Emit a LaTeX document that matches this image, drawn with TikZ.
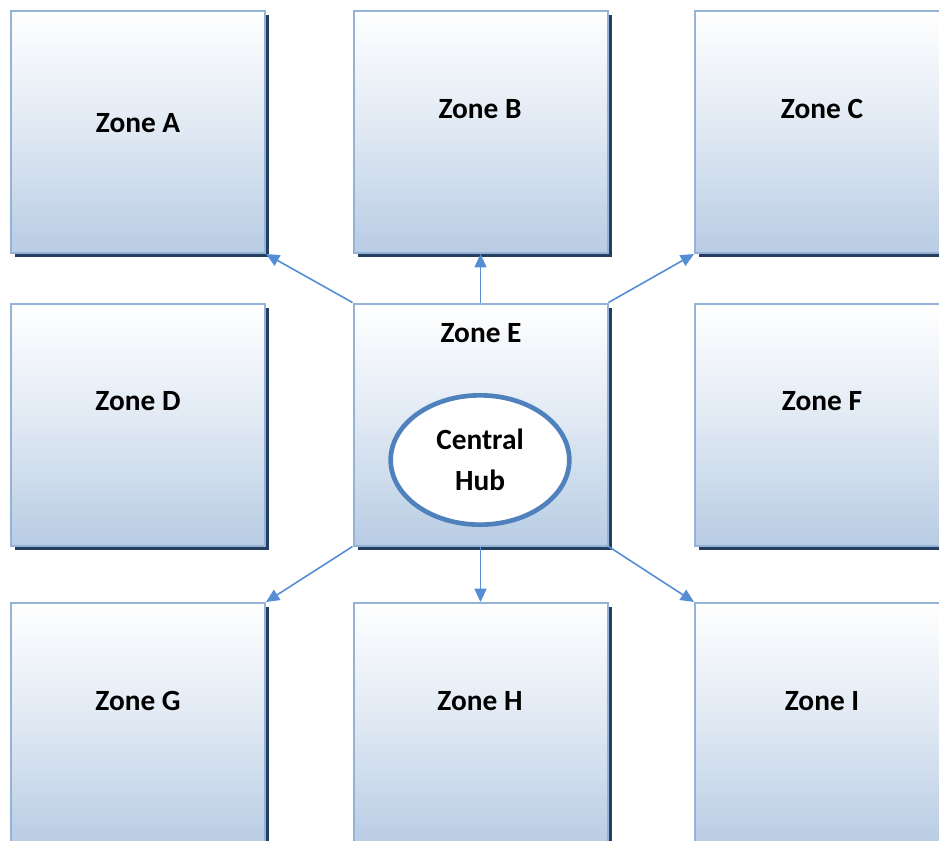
\documentclass[tikz,border=0pt]{standalone}
\usepackage{fontspec}
\setmainfont{Carlito}
\usetikzlibrary{arrows.meta,shadows,shapes.geometric}
\definecolor{zoneedge}{HTML}{95B3D7}
\definecolor{zonebot}{HTML}{B8CCE4}
\definecolor{zoneshade}{HTML}{243F60}
\definecolor{linkblue}{HTML}{558ED5}
\definecolor{hubblue}{HTML}{4F81BD}
\begin{document}
\begin{tikzpicture}[x=0.75pt,y=-0.75pt,
  zone/.style={draw=zoneedge,line width=1.5pt,shading=axis,top color=white,bottom color=zonebot,
    middle color=zonebot!45!white,
    minimum width=190.5pt,minimum height=181.5pt,inner sep=0pt,
    drop shadow={shadow xshift=3pt,shadow yshift=-3pt,fill=zoneshade,opacity=1}},
  zonetext/.style={font=\fontsize{22}{30.75}\selectfont\bfseries,align=center},
  link/.style={draw=linkblue,line width=1.2pt,-{Triangle[length=10pt,width=9pt]}}]
\useasboundingbox (0,0) rectangle (939,840);
\clip (0,0) rectangle (939,840);
\node[zone] (zA) at (138,132) {};
\node[zone] (zB) at (480.5,132) {};
\node[zone] (zC) at (822,132) {};
\node[zone] (zD) at (138,424.5) {};
\node[zone] (zE) at (480.5,424.5) {};
\node[zone] (zF) at (822,424.5) {};
\node[zone] (zG) at (138,724) {};
\node[zone] (zH) at (480.5,724) {};
\node[zone] (zI) at (822,724) {};

\node[zonetext] (tA) at (138,123) {Zone A};
\node[zonetext] (tB) at (480,109) {Zone B};
\node[zonetext] (tC) at (822,109) {Zone C};
\node[zonetext] (tD) at (138,401) {Zone D};
\node[zonetext] (tE) at (481,333) {Zone E};
\node[zonetext] (tF) at (822,401) {Zone F};
\node[zonetext] (tG) at (138,701) {Zone G};
\node[zonetext] (tH) at (480,701) {Zone H};
\node[zonetext] (tI) at (822,701) {Zone I};

\node[ellipse,draw=hubblue,line width=3.5pt,fill=white,minimum width=134pt,minimum height=97pt,
  zonetext] (hub) at (480,460) {Central\\Hub};

\draw[link] (zE.north west) -- (zA.south east);
\draw[link] (zE.north) -- (zB.south);
\draw[link] (zE.north east) -- (zC.south west);
\draw[link] (zE.south west) -- (zG.north east);
\draw[link] (zE.south) -- (zH.north);
\draw[link] (zE.south east) -- (zI.north west);
\end{tikzpicture}
\end{document}
